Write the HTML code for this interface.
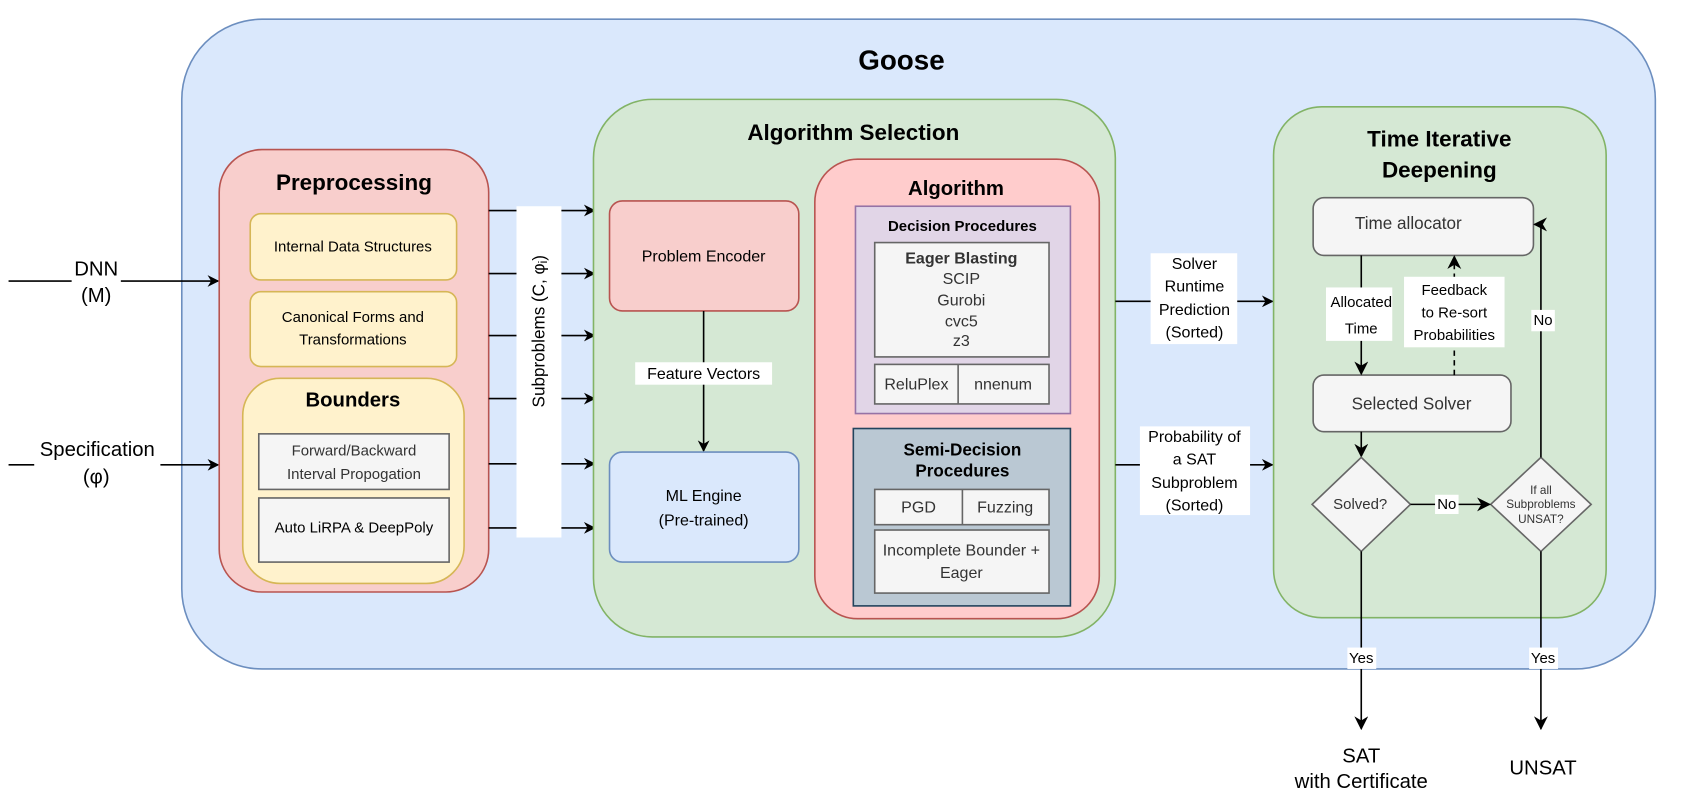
<!DOCTYPE html>
<html><head><meta charset="utf-8"><style>
html,body{margin:0;padding:0;background:#fff;}
svg{display:block;}
text{font-family:"Liberation Sans",Arial,sans-serif;text-anchor:middle;dominant-baseline:central;fill:#000;}
.g{fill:#333;}
</style></head><body>
<svg width="1681" height="810" viewBox="0 0 1572 758" preserveAspectRatio="none" xmlns="http://www.w3.org/2000/svg">
<defs>
<marker id="a" viewBox="0 0 10 10" refX="9" refY="5" markerWidth="11" markerHeight="11" markerUnits="userSpaceOnUse" orient="auto">
<path d="M0,0 L10,5 L0,10 L3,5 z" fill="#000"/></marker>
<marker id="b" viewBox="0 0 10 10" refX="9" refY="5" markerWidth="13" markerHeight="13" markerUnits="userSpaceOnUse" orient="auto">
<path d="M0,0 L10,5 L0,10 L3,5 z" fill="#000"/></marker>
</defs>
<!-- Goose -->
<rect x="170" y="18" width="1378" height="608" rx="75" fill="#dae8fc" stroke="#6c8ebf" stroke-width="1.5"/>
<text x="843" y="56" font-size="26" font-weight="bold">Goose</text>

<!-- Inputs -->
<line x1="8" y1="263" x2="204" y2="263" stroke="#000" stroke-width="1.5" marker-end="url(#a)"/>
<rect x="67" y="240" width="46" height="50" fill="#fff"/>
<text x="90" y="252" font-size="19">DNN</text>
<text x="90" y="277" font-size="19">(M)</text>
<line x1="8" y1="435" x2="204" y2="435" stroke="#000" stroke-width="1.5" marker-end="url(#a)"/>
<rect x="32" y="408" width="118" height="52" fill="#fff"/>
<text x="91" y="421" font-size="19">Specification</text>
<text x="90" y="447" font-size="19">(φ)</text>

<!-- Preprocessing -->
<rect x="205" y="140" width="252" height="414" rx="40" fill="#f8cecc" stroke="#b85450" stroke-width="1.5"/>
<text x="331" y="171" font-size="21" font-weight="bold">Preprocessing</text>
<rect x="234" y="200" width="193" height="62" rx="10" fill="#fff2cc" stroke="#d6b656" stroke-width="1.5"/>
<text x="330" y="231" font-size="14">Internal Data Structures</text>
<rect x="234" y="273" width="193" height="70" rx="10" fill="#fff2cc" stroke="#d6b656" stroke-width="1.5"/>
<text x="330" y="297" font-size="14">Canonical Forms and</text>
<text x="330" y="318" font-size="14">Transformations</text>
<rect x="227" y="354" width="207" height="192" rx="35" fill="#fff2cc" stroke="#d6b656" stroke-width="1.5"/>
<text x="330" y="375" font-size="19" font-weight="bold">Bounders</text>
<rect x="242" y="406" width="178" height="52" fill="#f5f5f5" stroke="#666" stroke-width="1.5"/>
<text x="331" y="422" font-size="14" class="g">Forward/Backward</text>
<text x="331" y="444" font-size="14" class="g">Interval Propogation</text>
<rect x="242" y="466" width="178" height="60" fill="#f5f5f5" stroke="#666" stroke-width="1.5"/>
<text x="331" y="494" font-size="14">Auto LiRPA &amp; DeepPoly</text>

<!-- subproblem arrows -->
<g stroke="#000" stroke-width="1.5">
<line x1="457" y1="197" x2="556" y2="197" marker-end="url(#a)"/>
<line x1="457" y1="256" x2="556" y2="256" marker-end="url(#a)"/>
<line x1="457" y1="314" x2="556" y2="314" marker-end="url(#a)"/>
<line x1="457" y1="373" x2="556" y2="373" marker-end="url(#a)"/>
<line x1="457" y1="434" x2="556" y2="434" marker-end="url(#a)"/>
<line x1="457" y1="494" x2="556" y2="494" marker-end="url(#a)"/>
</g>

<!-- Algorithm Selection -->
<rect x="555" y="93" width="488" height="503" rx="55" fill="#d5e8d4" stroke="#82b366" stroke-width="1.5"/>
<rect x="483" y="193" width="42" height="310" fill="#fff"/>
<text transform="translate(504,310) rotate(-90)" font-size="16">Subproblems (C, φ<tspan font-size="11" dy="4">i</tspan><tspan dy="-4">)</tspan></text>
<text x="798" y="124" font-size="21" font-weight="bold">Algorithm Selection</text>
<rect x="570" y="188" width="177" height="103" rx="12" fill="#f8cecc" stroke="#b85450" stroke-width="1.5"/>
<text x="658" y="240" font-size="15">Problem Encoder</text>
<line x1="658" y1="291" x2="658" y2="422" stroke="#000" stroke-width="1.5" marker-end="url(#a)"/>
<rect x="594" y="339" width="128" height="21" fill="#fff"/>
<text x="658" y="350" font-size="15">Feature Vectors</text>
<rect x="570" y="423" width="177" height="103" rx="12" fill="#dae8fc" stroke="#6c8ebf" stroke-width="1.5"/>
<text x="658" y="464" font-size="15">ML Engine</text>
<text x="658" y="487" font-size="15">(Pre-trained)</text>

<!-- Algorithm -->
<rect x="762" y="149" width="266" height="430" rx="40" fill="#ffcccc" stroke="#b85450" stroke-width="1.5"/>
<text x="894" y="177" font-size="19" font-weight="bold">Algorithm</text>
<rect x="800" y="193" width="201" height="194" fill="#e1d5e7" stroke="#9673a6" stroke-width="1.5"/>
<text x="900" y="212" font-size="14" font-weight="bold">Decision Procedures</text>
<rect x="818" y="227" width="163" height="107" fill="#f5f5f5" stroke="#666" stroke-width="1.5"/>
<text x="899" y="242" font-size="15" font-weight="bold" class="g">Eager Blasting</text>
<text x="899" y="261" font-size="15" class="g">SCIP</text>
<text x="899" y="281" font-size="15" class="g">Gurobi</text>
<text x="899" y="301" font-size="15" class="g">cvc5</text>
<text x="899" y="319" font-size="15" class="g">z3</text>
<rect x="818" y="341" width="163" height="37" fill="#f5f5f5" stroke="#666" stroke-width="1.5"/>
<line x1="896" y1="341" x2="896" y2="378" stroke="#666" stroke-width="1.5"/>
<text x="857" y="360" font-size="15" class="g">ReluPlex</text>
<text x="938" y="360" font-size="15" class="g">nnenum</text>
<rect x="798" y="401" width="203" height="166" fill="#bac8d3" stroke="#23445d" stroke-width="1.5"/>
<text x="900" y="421" font-size="16" font-weight="bold">Semi-Decision</text>
<text x="900" y="441" font-size="16" font-weight="bold">Procedures</text>
<rect x="818" y="458" width="163" height="33" fill="#f5f5f5" stroke="#666" stroke-width="1.5"/>
<line x1="900" y1="458" x2="900" y2="491" stroke="#666" stroke-width="1.5"/>
<text x="859" y="475" font-size="15" class="g">PGD</text>
<text x="940" y="475" font-size="15" class="g">Fuzzing</text>
<rect x="818" y="496" width="163" height="59" fill="#f5f5f5" stroke="#666" stroke-width="1.5"/>
<text x="899" y="515" font-size="15" class="g">Incomplete Bounder +</text>
<text x="899" y="536" font-size="15" class="g">Eager</text>

<!-- middle connectors -->
<line x1="1043" y1="282" x2="1190" y2="282" stroke="#000" stroke-width="1.5" marker-end="url(#a)"/>
<rect x="1076" y="237" width="81" height="85" fill="#fff"/>
<text x="1117" y="247" font-size="15">Solver</text>
<text x="1117" y="268" font-size="15">Runtime</text>
<text x="1117" y="290" font-size="15">Prediction</text>
<text x="1117" y="311" font-size="15">(Sorted)</text>
<line x1="1043" y1="435" x2="1190" y2="435" stroke="#000" stroke-width="1.5" marker-end="url(#a)"/>
<rect x="1066" y="399" width="103" height="83" fill="#fff"/>
<text x="1117" y="409" font-size="15">Probability of</text>
<text x="1117" y="430" font-size="15">a SAT</text>
<text x="1117" y="452" font-size="15">Subproblem</text>
<text x="1117" y="473" font-size="15">(Sorted)</text>

<!-- Time Iterative Deepening -->
<rect x="1191" y="100" width="311" height="478" rx="45" fill="#d5e8d4" stroke="#82b366" stroke-width="1.5"/>
<text x="1346" y="130" font-size="21" font-weight="bold">Time Iterative</text>
<text x="1346" y="159" font-size="21" font-weight="bold">Deepening</text>
<rect x="1228" y="185" width="206" height="54" rx="10" fill="#f5f5f5" stroke="#666" stroke-width="1.5"/>
<text x="1317" y="209" font-size="16" class="g">Time allocator</text>
<rect x="1228" y="351" width="185" height="53" rx="10" fill="#f5f5f5" stroke="#666" stroke-width="1.5"/>
<text x="1320" y="378" font-size="16" class="g">Selected Solver</text>

<line x1="1273" y1="239" x2="1273" y2="350" stroke="#000" stroke-width="1.5" marker-end="url(#b)"/>
<rect x="1240" y="269" width="62" height="50" fill="#fff"/>
<text x="1273" y="283" font-size="14">Allocated</text>
<text x="1273" y="308" font-size="14">Time</text>

<line x1="1360" y1="351" x2="1360" y2="240" stroke="#000" stroke-width="1.5" stroke-dasharray="5,4" marker-end="url(#b)"/>
<rect x="1313" y="259" width="94" height="66" fill="#fff"/>
<text x="1360" y="272" font-size="14">Feedback</text>
<text x="1360" y="293" font-size="14">to Re-sort</text>
<text x="1360" y="314" font-size="14">Probabilities</text>

<line x1="1273" y1="404" x2="1273" y2="427" stroke="#000" stroke-width="1.5" marker-end="url(#b)"/>
<polygon points="1273,428 1319,472 1273,516 1227,472" fill="#f5f5f5" stroke="#666" stroke-width="1.5"/>
<text x="1272" y="472" font-size="14" class="g">Solved?</text>
<polygon points="1441,428 1488,472 1441,516 1394,472" fill="#f5f5f5" stroke="#666" stroke-width="1.5"/>
<text x="1441" y="459" font-size="11" class="g">If all</text>
<text x="1441" y="472" font-size="11" class="g">Subproblems</text>
<text x="1441" y="486" font-size="11" class="g">UNSAT?</text>
<line x1="1319" y1="472" x2="1393" y2="472" stroke="#000" stroke-width="1.5" marker-end="url(#b)"/>
<rect x="1342" y="463" width="22" height="18" fill="#fff"/>
<text x="1353" y="472" font-size="14">No</text>
<polyline points="1441,428 1441,210 1436,210" fill="none" stroke="#000" stroke-width="1.5"/>
<line x1="1441" y1="210" x2="1435" y2="210" stroke="#000" stroke-width="1.5" marker-end="url(#b)"/>
<rect x="1432" y="290" width="22" height="20" fill="#fff"/>
<text x="1443" y="300" font-size="14">No</text>

<line x1="1273" y1="516" x2="1273" y2="682" stroke="#000" stroke-width="1.5" marker-end="url(#b)"/>
<rect x="1260" y="606" width="27" height="20" fill="#fff"/>
<text x="1273" y="616" font-size="14">Yes</text>
<line x1="1441" y1="516" x2="1441" y2="682" stroke="#000" stroke-width="1.5" marker-end="url(#b)"/>
<rect x="1430" y="606" width="27" height="20" fill="#fff"/>
<text x="1443" y="616" font-size="14">Yes</text>

<text x="1273" y="708" font-size="19">SAT</text>
<text x="1273" y="732" font-size="19">with Certificate</text>
<text x="1443" y="719" font-size="19">UNSAT</text>
</svg>
</body></html>
